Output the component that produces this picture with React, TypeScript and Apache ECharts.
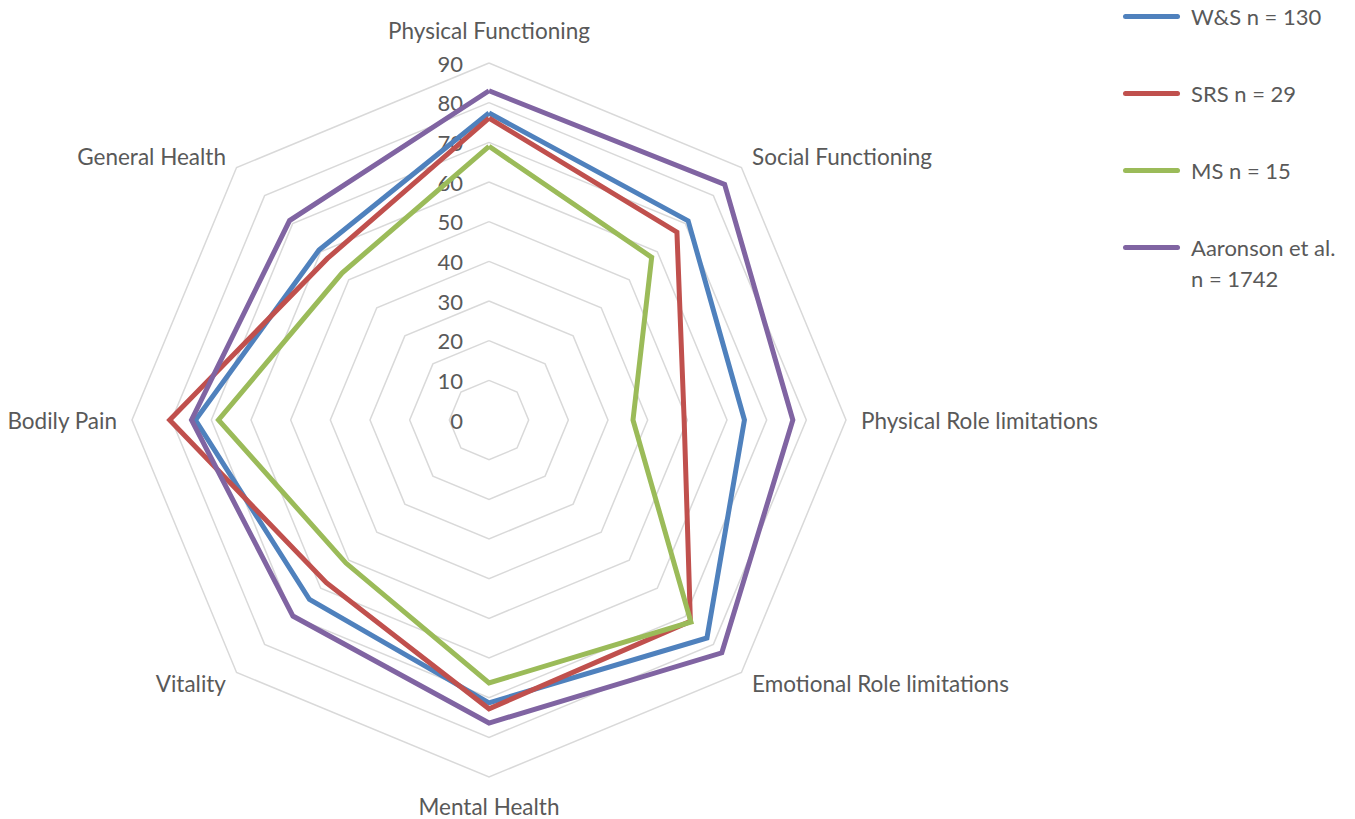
import React, { useEffect, useRef } from "react";
import * as echarts from "echarts";

// Indicators in ECharts order (counter-clockwise starting from the top)
const indicators = [
  "Physical Functioning",
  "General Health",
  "Bodily Pain",
  "Vitality",
  "Mental Health",
  "Emotional Role limitations",
  "Physical Role limitations",
  "Social Functioning",
];
const axisMax = 90;
const axisSplits = 9;

const seriesNames = ["W&S n = 130", "SRS n = 29", "MS n = 15", "Aaronson et al. n = 1742"];
const wsValues = [77.4, 60.6, 74.0, 64.0, 71.3, 77.7, 64.4, 71.0];
const srsValues = [76.1, 57.6, 80.5, 58.0, 72.8, 71.8, 49.2, 67.0];
const msValues = [69.0, 52.4, 68.2, 51.0, 66.3, 72.0, 36.3, 58.0];
const aaronsonValues = [83.0, 71.1, 75.0, 69.9, 76.4, 83.0, 76.6, 84.0];
const seriesColors = ["#4F81BD", "#C0504D", "#9BBB59", "#8064A2"];

const FONT = "Lato";
const TEXT_COLOR = "#595959";

export default function App() {
  const ref = useRef<HTMLDivElement>(null);

  useEffect(() => {
    document.body.style.margin = "0";
    if (!ref.current) return;
    const chart = echarts.init(ref.current, undefined, { renderer: "svg" });
    const allValues = [wsValues, srsValues, msValues, aaronsonValues];

    const legendIcon = "path://M2.5,0 H54.5 A2.5,2.5 0 0 1 54.5,5 H2.5 A2.5,2.5 0 0 1 2.5,0 Z";
    const legendText = {
      color: TEXT_COLOR,
      fontSize: 22,
      fontFamily: FONT,
      lineHeight: 31,
      padding: [0, 0, 0, 6],
    };

    const nameGaps: Record<string, number> = {
      "Physical Functioning": 21,
      "Mental Health": 18,
    };

    chart.setOption({
      animation: false,
      legend: [
        {
          data: seriesNames.slice(0, 3),
          orient: "vertical",
          left: 1123,
          top: 1,
          padding: 0,
          itemWidth: 57,
          itemHeight: 5,
          itemGap: 46,
          icon: legendIcon,
          textStyle: legendText,
          selectedMode: false,
        },
        {
          data: seriesNames.slice(3),
          orient: "vertical",
          left: 1123,
          top: 201,
          padding: 0,
          itemWidth: 57,
          itemHeight: 5,
          icon: legendIcon,
          formatter: (n: string) => " \n" + n.replace(" n =", "\nn ="),
          textStyle: legendText,
          selectedMode: false,
        },
      ],
      radar: {
        center: [489, 420],
        radius: 357,
        startAngle: 90,
        splitNumber: axisSplits,
        shape: "polygon",
        indicator: indicators.map((name, i) => {
          const ind: any = { name, min: 0, max: axisMax };
          if (nameGaps[name] != null) ind.nameGap = nameGaps[name];
          if (i === 0) {
            ind.axisLabel = {
              show: true,
              color: TEXT_COLOR,
              fontSize: 22,
              fontFamily: FONT,
              margin: 26,
            };
          }
          return ind;
        }),
        axisName: {
          color: TEXT_COLOR,
          fontSize: 22.5,
          fontFamily: FONT,
        },
        nameGap: 15,
        axisLine: { show: false },
        axisTick: { show: false },
        axisLabel: { show: false },
        splitLine: { lineStyle: { color: "#D9D9D9", width: 1.5 } },
        splitArea: { show: false },
      },
      series: seriesNames.map((name, i) => ({
        type: "radar",
        name,
        symbol: "none",
        z: 2 + i,
        lineStyle: { color: seriesColors[i], width: 5, join: "miter" },
        itemStyle: { color: seriesColors[i] },
        data: [{ name, value: allValues[i] }],
      })),
    });

    return () => chart.dispose();
  }, []);

  return <div ref={ref} style={{ width: 1355, height: 819 }} />;
}
